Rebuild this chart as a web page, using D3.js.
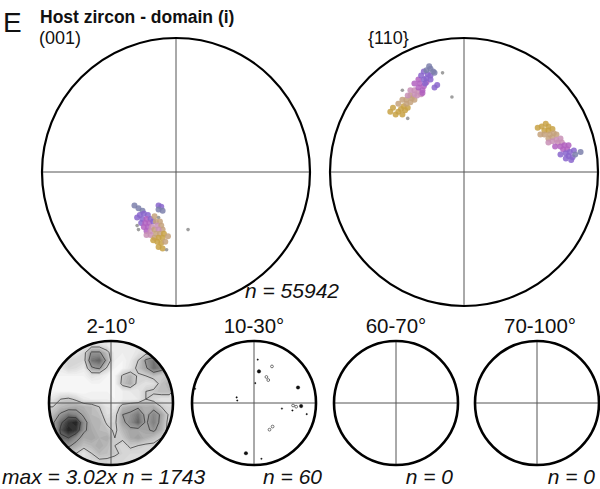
<!DOCTYPE html>
<html>
<head>
<meta charset="utf-8">
<script src="https://cdn.jsdelivr.net/npm/d3@7"></script>
<style>
  body { margin: 0; background: #fff; }
  svg { display: block; }
</style>
</head>
<body>
<svg id="chart" width="600" height="489"></svg>
<script>
// ---------- data ----------
const panelLetter = "E";
const panelTitle = "Host zircon - domain (i)";
const poleFigureNames = ["(001)", "{110}"];
const totalCount = 55942;

// colour keys used by the orientation points
const colourKeys = {
  P: "#8a66cc", M: "#b262c0", K: "#c890b6", T: "#c4a27c",
  G: "#c8a246", Y: "#7c80ab", D: "#8e8e8e"
};

// (001) poles, projected x / y in the unit net (y up)
const poles001 = [
  ["Y",-0.31,-0.25],["Y",-0.28,-0.27],["Y",-0.25,-0.29],["P",-0.13,-0.25],["P",-0.11,-0.26],
  ["Y",-0.13,-0.28],["Y",-0.10,-0.29],["P",-0.27,-0.32],["P",-0.24,-0.31],["P",-0.21,-0.32],
  ["P",-0.25,-0.35],["M",-0.22,-0.35],["P",-0.19,-0.35],["P",-0.26,-0.38],["M",-0.23,-0.38],
  ["M",-0.20,-0.38],["P",-0.17,-0.37],["M",-0.24,-0.41],["M",-0.21,-0.41],["K",-0.18,-0.41],
  ["M",-0.22,-0.44],["K",-0.19,-0.44],["T",-0.16,-0.43],["T",-0.16,-0.33],["D",-0.13,-0.34],
  ["T",-0.15,-0.37],["T",-0.12,-0.37],["K",-0.14,-0.40],["T",-0.11,-0.40],["T",-0.10,-0.43],
  ["K",-0.13,-0.43],["T",-0.15,-0.46],["T",-0.12,-0.46],["G",-0.09,-0.46],["K",-0.19,-0.47],
  ["T",-0.16,-0.49],["G",-0.13,-0.49],["G",-0.10,-0.49],["G",-0.17,-0.51],["G",-0.14,-0.52],
  ["G",-0.11,-0.53],["T",-0.08,-0.52],["G",-0.13,-0.56],["G",-0.10,-0.57],["D",-0.07,-0.58],
  ["K",-0.22,-0.47],["T",-0.06,-0.48],["P",-0.29,-0.34],
  ["D",-0.28,-0.43],["D",-0.29,-0.40],["D",0.09,-0.43]
];

// {110} poles, projected x / y in the unit net (y up)
const poles110 = [
  ["G",-0.49,0.45],["G",-0.46,0.43],["G",-0.47,0.47],["G",-0.44,0.46],["G",-0.42,0.48],["G",-0.45,0.49],
  ["G",-0.55,0.45],["G",-0.53,0.48],["G",-0.51,0.43],
  ["T",-0.43,0.51],["T",-0.40,0.52],["T",-0.43,0.54],["T",-0.39,0.55],["T",-0.37,0.54],["T",-0.40,0.57],
  ["T",-0.49,0.51],["T",-0.46,0.54],
  ["K",-0.37,0.58],["K",-0.35,0.57],["K",-0.34,0.60],["K",-0.37,0.61],["K",-0.32,0.58],
  ["K",-0.42,0.57],["K",-0.40,0.61],
  ["M",-0.34,0.63],["M",-0.31,0.61],["M",-0.30,0.64],["M",-0.33,0.66],["M",-0.28,0.67],["M",-0.31,0.59],
  ["M",-0.37,0.66],["M",-0.34,0.69],
  ["P",-0.30,0.69],["P",-0.28,0.70],["P",-0.25,0.69],["P",-0.27,0.73],["P",-0.25,0.72],["P",-0.29,0.66],
  ["P",-0.20,0.65],["P",-0.22,0.63],["P",-0.32,0.72],["P",-0.30,0.75],
  ["Y",-0.28,0.76],["Y",-0.25,0.77],["Y",-0.23,0.75],["Y",-0.22,0.74],["Y",-0.26,0.79],
  ["D",-0.16,0.74],["D",-0.46,0.61],["D",-0.09,0.56],["D",-0.42,0.40],
  ["G",0.58,0.34],["G",0.61,0.36],["G",0.63,0.34],["G",0.60,0.31],["G",0.63,0.31],["G",0.66,0.32],["G",0.55,0.33],
  ["T",0.60,0.28],["T",0.64,0.28],["T",0.67,0.29],["T",0.66,0.26],["T",0.69,0.28],["T",0.63,0.25],["T",0.57,0.28],
  ["K",0.69,0.24],["K",0.72,0.25],["K",0.70,0.22],["K",0.73,0.22],["K",0.66,0.23],["K",0.63,0.22],
  ["M",0.72,0.19],["M",0.75,0.20],["M",0.74,0.17],["M",0.77,0.17],["M",0.78,0.20],["M",0.68,0.19],
  ["P",0.76,0.14],["P",0.79,0.15],["P",0.78,0.12],["P",0.81,0.11],["P",0.82,0.16],["P",0.80,0.09],["P",0.76,0.10],["P",0.72,0.13],
  ["Y",0.87,0.15],["Y",0.83,0.13]
];

// misorientation angle bins
const binLabels = ["2-10°", "10-30°", "60-70°", "70-100°"];
const binCounts = [1743, 60, 0, 0];
const densityMax = 3.02;

// multiples of uniform density, 2-10° axes (rows from top of net to bottom)
const density2to10 = [
  [0.4,0.4,0.4,0.4,0.5,0.7,0.7,0.5,0.4,0.4,0.4,0.5,0.6,0.6,0.5,0.4],
  [0.4,0.4,0.5,0.5,0.8,1.8,1.8,1.2,0.4,0.4,0.4,0.6,0.8,0.9,0.7,0.5],
  [0.4,0.5,0.9,0.9,0.8,2.2,2.4,1.5,0.4,0.3,0.5,1.0,1.8,2.2,1.5,1.0],
  [0.4,0.5,0.8,0.7,0.5,1.6,1.8,0.9,0.3,0.3,0.6,1.2,1.6,2.3,2.0,1.2],
  [0.3,0.3,0.3,0.3,0.3,0.6,0.5,0.3,0.3,1.1,1.4,0.9,1.0,1.2,1.0,1.2],
  [0.3,0.3,0.2,0.2,0.2,0.3,0.3,0.3,0.3,1.2,1.5,0.8,0.6,0.7,1.2,1.4],
  [0.3,0.3,0.3,0.2,0.2,0.3,0.3,0.3,0.3,0.4,0.5,0.5,1.0,1.1,1.3,1.3],
  [0.6,1.0,1.1,0.9,0.5,0.4,0.4,0.4,0.3,0.4,0.4,0.5,1.0,0.8,0.6,0.6],
  [1.0,1.3,1.4,1.5,1.4,1.3,1.0,0.6,0.5,1.3,1.5,1.6,1.4,1.5,1.0,0.8],
  [1.3,1.8,2.2,2.0,1.6,1.3,1.2,0.7,0.8,1.7,1.8,2.2,1.5,2.0,1.6,0.9],
  [1.6,2.3,2.8,3.02,1.9,1.4,1.4,0.9,0.9,1.6,1.9,2.4,1.6,2.1,1.5,0.8],
  [1.5,2.5,3.0,2.8,1.8,1.5,1.3,1.2,0.9,1.3,1.6,1.5,1.6,1.8,1.4,0.8],
  [1.4,2.3,2.4,1.9,1.5,1.6,1.4,1.5,1.0,1.1,1.5,1.7,1.4,1.2,1.0,0.8],
  [1.2,1.6,1.8,1.5,1.2,1.3,1.5,1.3,1.0,0.8,1.1,1.0,0.9,0.9,0.8,0.7],
  [1.0,1.1,1.2,1.0,0.6,1.0,1.3,1.2,1.1,0.9,0.8,0.8,0.8,0.7,0.7,0.6],
  [0.8,0.8,0.8,0.8,0.7,0.8,0.9,0.9,0.8,0.8,0.7,0.7,0.7,0.6,0.6,0.6]
];

// scattered 10-30° axes: x, y in the unit net, kind (d dot, D large dot, r ring)
const axes10to30 = [
  [0.06,0.70,"d"],[0.08,0.51,"D"],[0.29,0.59,"r"],[0.20,0.42,"r"],[0.23,0.37,"r"],
  [0.02,0.32,"d"],[0.71,0.25,"D"],[-0.28,0.09,"d"],[-0.27,0.04,"d"],[-0.95,0.23,"d"],
  [0.45,-0.09,"d"],[0.63,-0.04,"r"],[0.68,-0.06,"r"],[0.76,-0.05,"D"],[0.62,-0.12,"d"],
  [0.85,-0.18,"d"],[0.30,-0.38,"r"],[0.25,-0.43,"r"],[-0.13,-0.81,"D"],[0.12,-0.90,"d"]
];

// ---------- drawing ----------
const FONT = '"Liberation Sans", Arial, sans-serif';
const svg = d3.select("#chart");
const defs = svg.append("defs");
defs.append("filter").attr("id", "soft")
  .append("feGaussianBlur").attr("stdDeviation", 0.6);

function makeNet(id, cx, cy, r) {
  const x = d3.scaleLinear().domain([-1, 1]).range([cx - r, cx + r]);
  const y = d3.scaleLinear().domain([-1, 1]).range([cy + r, cy - r]);
  defs.append("clipPath").attr("id", "clip-" + id)
    .append("circle").attr("cx", cx).attr("cy", cy).attr("r", r);
  const g = svg.append("g");
  return { id, cx, cy, r, x, y, g };
}

function drawFrame(net, strokeW) {
  const g = net.g.append("g");
  g.append("line")
    .attr("x1", net.x(-1)).attr("x2", net.x(1))
    .attr("y1", net.y(0)).attr("y2", net.y(0))
    .attr("stroke", "#555").attr("stroke-width", 1);
  g.append("line")
    .attr("x1", net.x(0)).attr("x2", net.x(0))
    .attr("y1", net.y(-1)).attr("y2", net.y(1))
    .attr("stroke", "#555").attr("stroke-width", 1);
  g.append("circle")
    .attr("cx", net.x(0)).attr("cy", net.y(0)).attr("r", net.r)
    .attr("fill", "none").attr("stroke", "#000").attr("stroke-width", strokeW);
}

function drawPoles(net, poles) {
  const g = net.g.append("g").attr("clip-path", `url(#clip-${net.id})`)
    .attr("filter", "url(#soft)");
  g.selectAll("circle").data(poles).join("circle")
    .attr("cx", d => net.x(d[1]))
    .attr("cy", d => net.y(d[2]))
    .attr("r", d => d[0] === "D" ? 1.8 : 3.0)
    .attr("fill", d => colourKeys[d[0]])
    .attr("fill-opacity", 0.85);
}

// header
svg.append("text").attr("x", 3).attr("y", 32)
  .attr("font-family", FONT).attr("font-size", 28).attr("fill", "#111")
  .text(panelLetter);
svg.append("text").attr("x", 40).attr("y", 23)
  .attr("font-family", FONT).attr("font-size", 17.5).attr("font-weight", "bold").attr("fill", "#111")
  .text(panelTitle);

// pole figures
const net001 = makeNet("p001", 176, 172, 134);
const net110 = makeNet("p110", 464, 172, 134);
drawFrame(net001, 2.2);
drawFrame(net110, 2.2);
drawPoles(net001, poles001);
drawPoles(net110, poles110);

svg.append("text").attr("x", 39).attr("y", 44)
  .attr("font-family", FONT).attr("font-size", 18).attr("fill", "#111")
  .text(poleFigureNames[0]);
svg.append("text").attr("x", 368).attr("y", 44)
  .attr("font-family", FONT).attr("font-size", 18).attr("fill", "#111")
  .text(poleFigureNames[1]);
svg.append("text").attr("x", 245).attr("y", 298)
  .attr("font-family", FONT).attr("font-size", 21).attr("font-style", "italic").attr("fill", "#111")
  .text(`n = ${totalCount}`);

// misorientation axis nets
const smallCentres = [111, 254, 396, 537];
const smallNets = smallCentres.map((cx, i) => makeNet("m" + i, cx, 403, 62));

// 2-10° density contours
(function () {
  const net = smallNets[0];
  const ny = density2to10.length, nx = density2to10[0].length;
  const values = density2to10.flat();
  const proj = d3.geoIdentity().scale(2 * net.r / nx).translate([net.cx - net.r, net.cy - net.r]);
  const path = d3.geoPath(proj);
  const shade = d3.scaleLinear()
    .domain([0.3, 1.0, 2.0, densityMax])
    .range(["#f1f1f1", "#cbcbcb", "#838383", "#1c1c1c"]);
  const fills = d3.contours().size([nx, ny])
    .thresholds(d3.range(0.1, densityMax, 0.1))(values);
  const g = net.g.append("g").attr("clip-path", `url(#clip-${net.id})`);
  g.append("circle").attr("cx", net.cx).attr("cy", net.cy).attr("r", net.r).attr("fill", shade(0.2));
  g.append("g").attr("filter", "url(#soft)")
    .selectAll("path").data(fills).join("path")
    .attr("d", path).attr("fill", d => shade(d.value));
  const lines = d3.contours().size([nx, ny]).thresholds([1, 1.7, 2.4])(values);
  g.append("g").selectAll("path").data(lines).join("path")
    .attr("d", path).attr("fill", "none")
    .attr("stroke", "#2a2a2a").attr("stroke-width", 0.7);
})();

// 10-30° sparse axes
(function () {
  const net = smallNets[1];
  const g = net.g.append("g").attr("clip-path", `url(#clip-${net.id})`);
  g.selectAll("circle").data(axes10to30).join("circle")
    .attr("cx", d => net.x(d[0]))
    .attr("cy", d => net.y(d[1]))
    .attr("r", d => d[2] === "D" ? 1.8 : d[2] === "r" ? 1.4 : 0.8)
    .attr("fill", d => d[2] === "r" ? "none" : "#111")
    .attr("stroke", "#222")
    .attr("stroke-width", d => d[2] === "r" ? 0.6 : 0.3);
})();

smallNets.forEach(net => drawFrame(net, 2.6));

// bin labels
svg.selectAll("text.bin").data(binLabels).join("text")
  .attr("class", "bin")
  .attr("x", (d, i) => smallCentres[i] + (i === 3 ? 3 : 0))
  .attr("y", 333)
  .attr("text-anchor", "middle")
  .attr("font-family", FONT).attr("font-size", 20.5).attr("fill", "#111")
  .text(d => d);

// counts under each net
const countEnds = [null, 322, 453, 595];
svg.append("text").attr("x", 2).attr("y", 484)
  .attr("font-family", FONT).attr("font-size", 21).attr("font-style", "italic").attr("fill", "#111")
  .text(`max = ${densityMax.toFixed(2)}x n = ${binCounts[0]}`);
svg.selectAll("text.count").data(binCounts.slice(1)).join("text")
  .attr("class", "count")
  .attr("x", (d, i) => countEnds[i + 1])
  .attr("y", 484)
  .attr("text-anchor", "end")
  .attr("font-family", FONT).attr("font-size", 21).attr("font-style", "italic").attr("fill", "#111")
  .text(d => `n = ${d}`);
</script>
</body>
</html>
